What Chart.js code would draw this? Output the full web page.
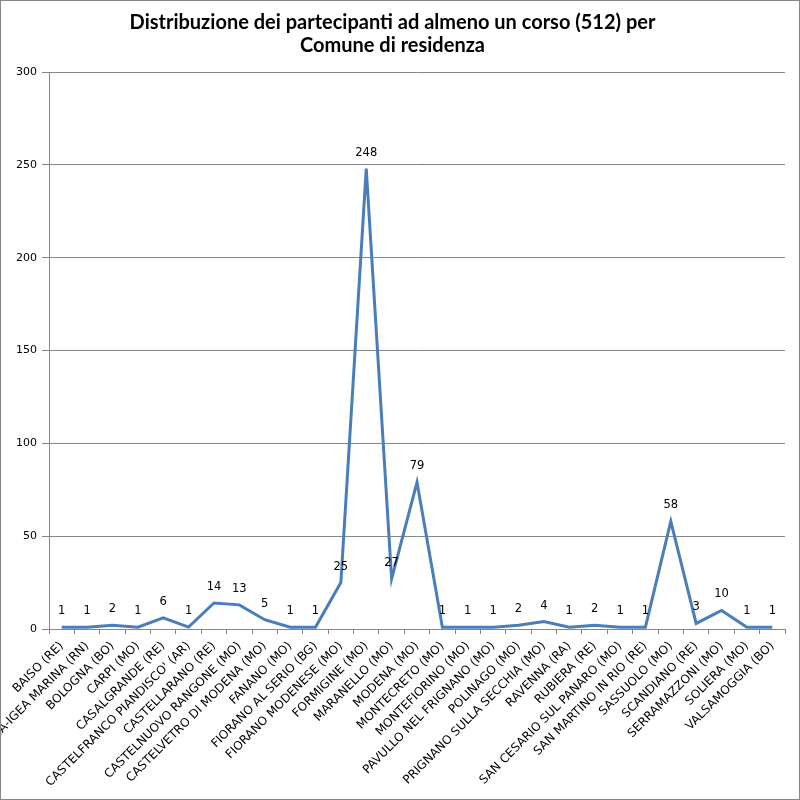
<!DOCTYPE html>
<html>
<head>
<meta charset="utf-8">
<script src="https://cdn.jsdelivr.net/npm/chart.js@4/dist/chart.umd.min.js"></script>
<style>
  html, body { margin: 0; padding: 0; background: #fff; }
  #wrap { width: 800px; height: 800px; position: relative; }
</style>
</head>
<body>
<div id="wrap"><canvas id="chart" width="800" height="800"></canvas></div>
<script>
const comuni = [
  'BAISO (RE)', 'BELLARIA-IGEA MARINA (RN)', 'BOLOGNA (BO)', 'CARPI (MO)',
  'CASALGRANDE (RE)', "CASTELFRANCO PIANDISCO' (AR)", 'CASTELLARANO (RE)',
  'CASTELNUOVO RANGONE (MO)', 'CASTELVETRO DI MODENA (MO)', 'FANANO (MO)',
  'FIORANO AL SERIO (BG)', 'FIORANO MODENESE (MO)', 'FORMIGINE (MO)',
  'MARANELLO (MO)', 'MODENA (MO)', 'MONTECRETO (MO)', 'MONTEFIORINO (MO)',
  'PAVULLO NEL FRIGNANO (MO)', 'POLINAGO (MO)', 'PRIGNANO SULLA SECCHIA (MO)',
  'RAVENNA (RA)', 'RUBIERA (RE)', 'SAN CESARIO SUL PANARO (MO)',
  'SAN MARTINO IN RIO (RE)', 'SASSUOLO (MO)', 'SCANDIANO (RE)',
  'SERRAMAZZONI (MO)', 'SOLIERA (MO)', 'VALSAMOGGIA (BO)'
];
const partecipanti = [
  1, 1, 2, 1, 6, 1, 14, 13, 5, 1, 1, 25, 248, 27, 79,
  1, 1, 1, 2, 4, 1, 2, 1, 1, 58, 3, 10, 1, 1
];
const titleLines = ['Distribuzione dei partecipanti ad almeno un corso (512) per', 'Comune di residenza'];
const yMax = 300;
const yStep = 50;

const labelFont = '11.5px "DejaVu Sans"';

// value labels above each point
const valueLabels = {
  id: 'valueLabels',
  afterDatasetsDraw(chart) {
    const ctx = chart.ctx;
    const meta = chart.getDatasetMeta(0);
    ctx.save();
    ctx.font = labelFont;
    ctx.fillStyle = '#000';
    ctx.textAlign = 'center';
    ctx.textBaseline = 'middle';
    meta.data.forEach((pt, i) => {
      ctx.fillText(String(partecipanti[i]), pt.x, pt.y - 16);
    });
    ctx.restore();
  }
};

// outer border of the chart
const frame = {
  id: 'frame',
  afterDraw(chart) {
    const ctx = chart.ctx;
    ctx.save();
    ctx.strokeStyle = '#868686';
    ctx.lineWidth = 1;
    ctx.strokeRect(0.5, 0.5, chart.width - 1, chart.height - 1);
    ctx.restore();
  }
};

new Chart(document.getElementById('chart'), {
  type: 'line',
  data: {
    labels: comuni,
    datasets: [{
      data: partecipanti,
      borderColor: '#4A7EBB',
      borderWidth: 3,
      pointRadius: 0,
      tension: 0,
      fill: false
    }]
  },
  options: {
    responsive: false,
    animation: false,
    layout: { padding: { left: 0, right: 15, top: 0, bottom: 0 } },
    plugins: {
      legend: { display: false },
      tooltip: { enabled: false },
      title: {
        display: true,
        text: titleLines,
        color: '#000',
        font: { family: 'Lato', size: 20, weight: 'bold', lineHeight: 1.15 },
        padding: { top: 11, bottom: 15 }
      }
    },
    scales: {
      x: {
        offset: true,
        grid: { display: true, drawOnChartArea: false, drawTicks: true, tickLength: 5, offset: true, color: '#868686' },
        border: { display: true, color: '#868686' },
        ticks: {
          autoSkip: false,
          minRotation: 45,
          maxRotation: 45,
          color: '#000',
          padding: 5,
          font: { family: 'DejaVu Sans', size: 12 }
        },
        afterFit(scale) {
          scale.height = 171;
          scale.paddingLeft = 0;
          scale.paddingRight = 0;
        }
      },
      y: {
        min: 0,
        max: yMax,
        grid: { color: '#868686', tickLength: 7 },
        border: { display: true, color: '#868686' },
        ticks: {
          stepSize: yStep,
          color: '#000',
          padding: 5,
          font: { family: 'DejaVu Sans', size: 11 }
        },
        afterFit(scale) {
          scale.width = 49;
        }
      }
    }
  },
  plugins: [valueLabels, frame]
});
</script>
</body>
</html>
